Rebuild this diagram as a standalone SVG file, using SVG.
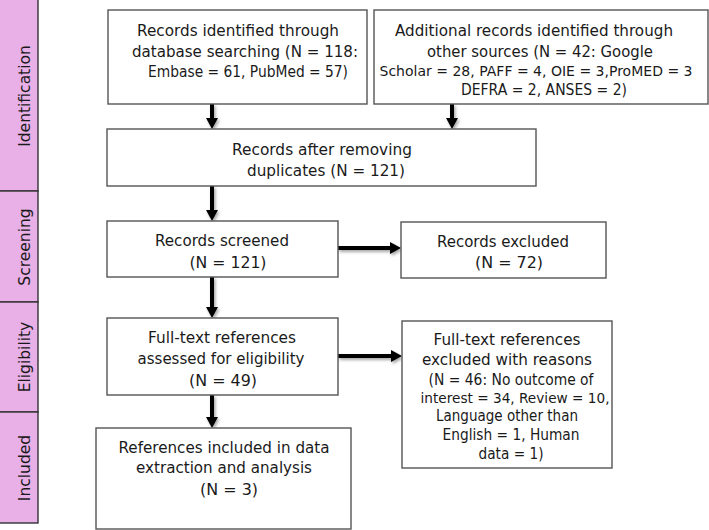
<svg xmlns="http://www.w3.org/2000/svg" width="709" height="530" viewBox="0 0 709 530">
<style>
  .box{fill:#fff;stroke:#555;stroke-width:1.4}
  .band{fill:#e8b0e6;stroke:#333;stroke-width:1.4}
  text{font-family:"DejaVu Sans","Liberation Sans",sans-serif;font-size:15px;fill:#1a1a1a;text-anchor:middle}
  .lbl{font-size:15.5px}
  .sm{font-size:14px}
  .arr{stroke:#000;stroke-width:4;fill:none;marker-end:url(#ah)}
</style>
<defs>
  <marker id="ah" markerUnits="userSpaceOnUse" viewBox="0 -6 11 12" refX="0" refY="0" markerWidth="11" markerHeight="12" orient="auto">
    <path d="M0,-6 L11,0 L0,6 z" fill="#000"/>
  </marker>
  <filter id="sh" x="-50%" y="-50%" width="200%" height="200%">
    <feDropShadow dx="1.5" dy="2" stdDeviation="1.5" flood-color="#000" flood-opacity="0.35"/>
  </filter>
</defs>

<g id="phases">
  <g id="phase-identification">
    <rect class="band" x="-1" y="-1" width="39" height="192"/>
    <text class="lbl" transform="translate(30,96) rotate(-90)">Identification</text>
  </g>
  <g id="phase-screening">
    <rect class="band" x="-1" y="191" width="39" height="111"/>
    <text class="lbl" transform="translate(30,247) rotate(-90)">Screening</text>
  </g>
  <g id="phase-eligibility">
    <rect class="band" x="-1" y="302" width="39" height="110"/>
    <text class="lbl" transform="translate(30,357) rotate(-90)">Eligibility</text>
  </g>
  <g id="phase-included">
    <rect class="band" x="-1" y="412" width="39" height="111"/>
    <text class="lbl" transform="translate(30,468) rotate(-90)">Included</text>
  </g>
</g>

<g id="connectors" filter="url(#sh)">
  <line class="arr" x1="212" y1="104" x2="212" y2="118"/>
  <line class="arr" x1="452" y1="104" x2="452" y2="118"/>
  <line class="arr" x1="212" y1="186" x2="212" y2="210"/>
  <line class="arr" x1="338" y1="248" x2="390" y2="248"/>
  <line class="arr" x1="212" y1="277" x2="212" y2="307"/>
  <line class="arr" x1="338" y1="356" x2="391" y2="356"/>
  <line class="arr" x1="212" y1="395" x2="212" y2="417"/>
</g>

<g id="db-records">
  <rect class="box" x="108" y="10" width="259" height="94"/>
  <text x="238" y="36" textLength="202" lengthAdjust="spacingAndGlyphs">Records identified through</text>
  <text x="245" y="57" textLength="226" lengthAdjust="spacingAndGlyphs">database searching (N = 118:</text>
  <text x="248" y="77" textLength="200" lengthAdjust="spacingAndGlyphs">Embase = 61, PubMed = 57)</text>
</g>

<g id="other-records">
  <rect class="box" x="374" y="10" width="334" height="94"/>
  <text x="534" y="36" textLength="278" lengthAdjust="spacingAndGlyphs">Additional records identified through</text>
  <text x="540" y="57" textLength="226" lengthAdjust="spacingAndGlyphs">other sources (N = 42:  Google</text>
  <text class="sm" x="536" y="76" textLength="313" lengthAdjust="spacingAndGlyphs">Scholar = 28, PAFF = 4, OIE = 3,ProMED = 3</text>
  <text x="544" y="95" textLength="166" lengthAdjust="spacingAndGlyphs">DEFRA = 2, ANSES = 2)</text>
</g>

<g id="after-duplicates">
  <rect class="box" x="107" y="129" width="429" height="57"/>
  <text x="322" y="155" textLength="180" lengthAdjust="spacingAndGlyphs">Records after removing</text>
  <text x="326" y="176" textLength="158" lengthAdjust="spacingAndGlyphs">duplicates (N = 121)</text>
</g>

<g id="screened">
  <rect class="box" x="107" y="221" width="231" height="56"/>
  <text x="222" y="246" textLength="134" lengthAdjust="spacingAndGlyphs">Records screened</text>
  <text x="228" y="268" textLength="77" lengthAdjust="spacingAndGlyphs">(N = 121)</text>
</g>

<g id="excluded">
  <rect class="box" x="401" y="222" width="205" height="56"/>
  <text x="503" y="247" textLength="132" lengthAdjust="spacingAndGlyphs">Records excluded</text>
  <text x="509" y="268" textLength="68" lengthAdjust="spacingAndGlyphs">(N = 72)</text>
</g>

<g id="fulltext-assessed">
  <rect class="box" x="107" y="318" width="231" height="77"/>
  <text x="222" y="343" textLength="148" lengthAdjust="spacingAndGlyphs">Full-text references</text>
  <text x="221" y="364" textLength="167" lengthAdjust="spacingAndGlyphs">assessed for eligibility</text>
  <text x="223" y="386" textLength="68" lengthAdjust="spacingAndGlyphs">(N = 49)</text>
</g>

<g id="fulltext-excluded">
  <rect class="box" x="402" y="321" width="210" height="147"/>
  <text x="507" y="345" textLength="147" lengthAdjust="spacingAndGlyphs">Full-text references</text>
  <text x="507" y="365" textLength="170" lengthAdjust="spacingAndGlyphs">excluded with reasons</text>
  <text x="511" y="385" textLength="165" lengthAdjust="spacingAndGlyphs">(N = 46: No outcome of</text>
  <text class="sm" x="515" y="403" textLength="189" lengthAdjust="spacingAndGlyphs">interest = 34, Review = 10,</text>
  <text x="507" y="421" textLength="142" lengthAdjust="spacingAndGlyphs">Language other than</text>
  <text x="511" y="440" textLength="137" lengthAdjust="spacingAndGlyphs">English = 1, Human</text>
  <text x="511" y="459" textLength="65" lengthAdjust="spacingAndGlyphs">data = 1)</text>
</g>

<g id="included">
  <rect class="box" x="96" y="428" width="255" height="101"/>
  <text x="224" y="453" textLength="211" lengthAdjust="spacingAndGlyphs">References included in data</text>
  <text x="224" y="473" textLength="176" lengthAdjust="spacingAndGlyphs">extraction and analysis</text>
  <text x="229" y="495" textLength="58" lengthAdjust="spacingAndGlyphs">(N = 3)</text>
</g>
</svg>
